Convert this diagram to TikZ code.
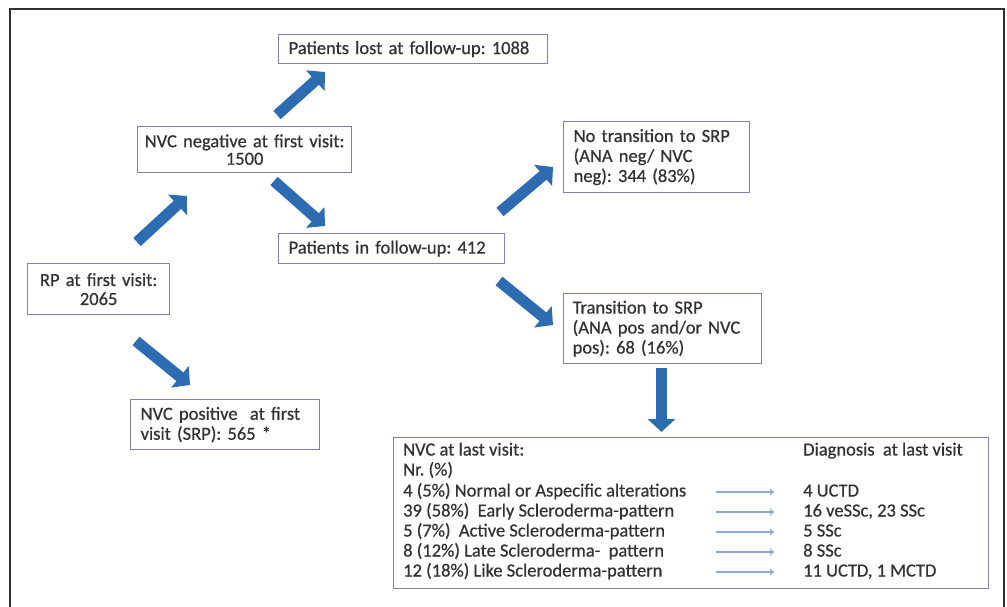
\documentclass[tikz,border=0pt]{standalone}
\usepackage{fontspec}
\setmainfont{Carlito}[FakeBold=0.6]
\usetikzlibrary{arrows.meta}
\definecolor{boxline}{RGB}{125,128,178}
\definecolor{arrowblue}{RGB}{46,108,178}
\definecolor{thinblue}{RGB}{140,172,216}
\definecolor{txtgray}{RGB}{50,50,50}
\definecolor{frameline}{RGB}{50,50,50}
\frenchspacing

\begin{document}
\begin{tikzpicture}[x=1pt,y=1pt,yscale=-1,xscale=1,
  font=\fontsize{18.5}{20}\selectfont, text=txtgray,
  box/.style={draw=boxline, line width=1.3pt, inner xsep=10pt, inner ysep=0pt, align=left, anchor=north west},
  bigarrow/.style={arrowblue, line width=11pt, -{Triangle[width=27pt,length=13pt]}},
  thinarrow/.style={thinblue, line width=1.2pt, -{To[length=4pt,width=7pt]}},
  plain/.style={inner sep=0pt, text height=13pt, text depth=4pt, anchor=west}]
\useasboundingbox (0,0) rectangle (1007,607);

%Straight Lines: frame
\draw [frameline, line width=1.5pt] (10,615) -- (10,9) -- (1004,9) -- (1004,615) ;

%Shape: Rectangle
\node [box, text width=249pt, minimum height=29pt] (lost) at (278,34) {Patients lost at follow-up: 1088};
%Shape: Rectangle
\node [box, inner xsep=2pt, text width=210pt, align=center, minimum height=46pt, font=\fontsize{18.5}{17.5}\selectfont] (neg) at (137,126) {NVC negative at first visit:\\1500};
%Shape: Rectangle
\node [box, text width=206pt, minimum height=30pt] (follow) at (278,233) {Patients in follow-up: 412};
%Shape: Rectangle
\node [box, inner xsep=2pt, text width=138pt, align=center, minimum height=51pt, font=\fontsize{18.5}{19}\selectfont] (rp) at (27,263) {RP at first visit:\\2065};
%Shape: Rectangle
\node [box, text width=166pt, minimum height=71pt] (notrans) at (563,121) {No transition to SRP\\(ANA neg/ NVC\\neg): 344 (83\%)};
%Shape: Rectangle
\node [box, inner xsep=9pt, text width=180pt, minimum height=70pt] (trans) at (563,293) {Transition to SRP\\(ANA pos and/or NVC\\pos): 68 (16\%)};
%Shape: Rectangle
\node [box, text width=169pt, minimum height=50pt] (pos) at (130,399) {NVC positive\ \ at first\\visit (SRP): 565 *};
%Shape: Rectangle
\node [box, minimum width=595pt, minimum height=151pt] (last) at (393,437) {};

% Text Node
\node [plain] (nvclast) at (403,451) {NVC at last visit:};
% Text Node
\node [plain] (nr) at (403,471) {Nr. (\%)};
% Text Node
\node [plain] (r1) at (403,492) {4 (5\%) Normal or Aspecific alterations};
% Text Node
\node [plain] (r2) at (403,512) {39 (58\%)\ \ Early Scleroderma-pattern};
% Text Node
\node [plain] (r3) at (403,532) {5 (7\%)\ \ Active Scleroderma-pattern};
% Text Node
\node [plain] (r4) at (403,552) {8 (12\%) Late Scleroderma-\ \ pattern};
% Text Node
\node [plain] (r5) at (403,572) {12 (18\%) Like Scleroderma-pattern};
% Text Node
\node [plain] (diag) at (803,451) {Diagnosis\ \ at last visit};
% Text Node
\node [plain] (d1) at (803,492) {4 UCTD};
% Text Node
\node [plain] (d2) at (803,512) {16 veSSc, 23 SSc};
% Text Node
\node [plain] (d3) at (803,532) {5 SSc};
% Text Node
\node [plain] (d4) at (803,552) {8 SSc};
% Text Node
\node [plain] (d5) at (803,572) {11 UCTD, 1 MCTD};

%Block arrows
\coordinate (rpup) at (137,242);   \coordinate (negin) at (187,196);
\coordinate (negup) at (277,115);  \coordinate (lostin) at (325,72);
\coordinate (negdn) at (274,181);  \coordinate (followin) at (325,226);
\coordinate (folup) at (500,212);  \coordinate (notransin) at (553,167);
\coordinate (foldn) at (499,281);  \coordinate (transin) at (553,325);
\coordinate (rpdn) at (136,341);   \coordinate (posin) at (190,385);
\coordinate (transdn) at (661.5,368); \coordinate (lastin) at (661.5,432);
\draw [bigarrow] (rpup) -- (negin) ;
\draw [bigarrow] (negup) -- (lostin) ;
\draw [bigarrow] (negdn) -- (followin) ;
\draw [bigarrow] (folup) -- (notransin) ;
\draw [bigarrow] (foldn) -- (transin) ;
\draw [bigarrow] (rpdn) -- (posin) ;
\draw [bigarrow] (transdn) -- (lastin) ;

%Straight Lines: thin arrows
\draw [thinarrow] ([xshift=-87pt]d1.west) -- ([xshift=-29pt]d1.west) ;
\draw [thinarrow] ([xshift=-87pt]d2.west) -- ([xshift=-29pt]d2.west) ;
\draw [thinarrow] ([xshift=-87pt]d3.west) -- ([xshift=-29pt]d3.west) ;
\draw [thinarrow] ([xshift=-87pt]d4.west) -- ([xshift=-29pt]d4.west) ;
\draw [thinarrow] ([xshift=-87pt]d5.west) -- ([xshift=-29pt]d5.west) ;

\end{tikzpicture}
\end{document}
